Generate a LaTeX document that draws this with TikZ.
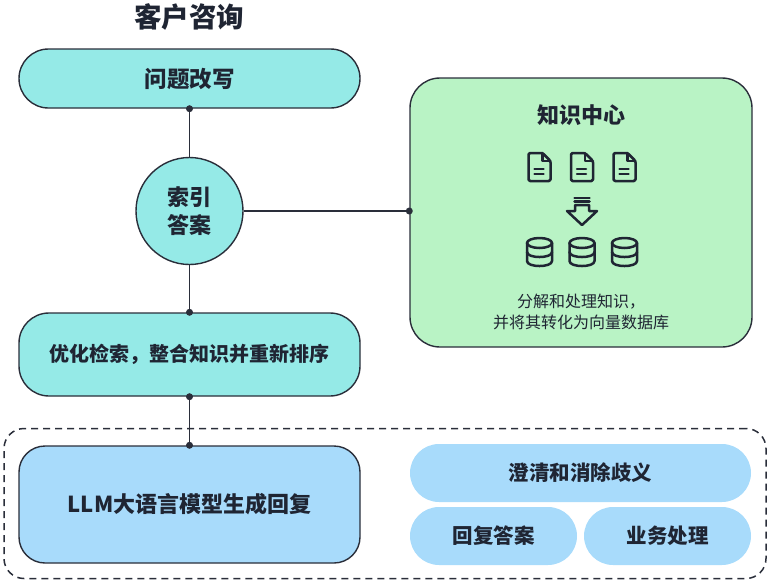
\documentclass[tikz,border=0pt]{standalone}
\usepackage{fontspec}
\setmainfont{Noto Sans CJK SC}
\definecolor{ink}{HTML}{1F2533}
\definecolor{edge}{HTML}{2A2E3A}
\definecolor{cyanf}{HTML}{95EAE7}
\definecolor{greenf}{HTML}{B9F3C5}
\definecolor{bluef}{HTML}{A8DBFB}
\tikzset{
  box/.style={draw=edge, line width=1.4pt, text=ink, align=center, inner sep=0pt,
    font=\fontsize{20}{28}\selectfont\bfseries},
  pill/.style={fill=bluef, text=ink, align=center, inner sep=0pt,
    font=\fontsize{20.5}{24}\selectfont\bfseries},
  dotnode/.style={circle, fill=edge, inner sep=0pt, minimum size=7pt},
  link/.style={draw=edge, line width=1.5pt},
  icon/.style={draw=ink, line width=2.5pt, line join=round, line cap=round},
  docicon/.pic={
    \draw[icon, rounded corners=1.5pt] (-11,-14) -- (3,-14) -- (11,-6) -- (11,14) -- (-11,14) -- cycle;
    \draw[icon] (3,-14) -- (3,-6) -- (11,-6);
    \draw[icon] (-5,2) -- (4,2) (-5,7) -- (4,7);
  },
  dbicon/.pic={
    \draw[icon] (0,-9) ellipse[x radius=12.5, y radius=5];
    \draw[icon] (-12.5,-9) -- (-12.5,9) .. controls (-12.5,15.7) and (12.5,15.7) .. (12.5,9) -- (12.5,-9);
    \draw[icon] (-12.5,0) .. controls (-12.5,6.7) and (12.5,6.7) .. (12.5,0);
  },
  downicon/.pic={
    \draw[icon] (-7.5,-12) -- (7.5,-12) (-7.5,-8.5) -- (7.5,-8.5);
    \draw[icon] (-7,-5) -- (7,-5) -- (7,1) -- (15,1) -- (0,15) -- (-15,1) -- (-7,1) -- cycle;
  }
}
\begin{document}
\begin{tikzpicture}[x=1pt,y=-1pt]
\useasboundingbox (0,0) rectangle (768,581);

% title
\node[text=ink, font=\fontsize{27.5}{30}\selectfont\bfseries] (title) at (189,17) {客户咨询};

% group
\node[draw=edge, line width=1.5pt, dash pattern=on 7pt off 5pt, rounded corners=20,
  minimum width=762, minimum height=150, inner sep=0pt] (grp) at (385,503.5) {};

% left column
\node[box, fill=cyanf, minimum width=341, minimum height=59, rounded corners=29.5, font=\fontsize{22.5}{28}\selectfont\bfseries] (q) at (189.5,78.5) {问题改写};
\node[box, fill=cyanf, circle, minimum size=107, font=\fontsize{22}{28}\selectfont\bfseries] (c) at (189.5,211) {索引\\答案};
\node[box, fill=cyanf, minimum width=341, minimum height=83, rounded corners=30] (opt) at (189.5,354.5) {优化检索，整合知识并重新排序};
\node[box, fill=bluef, minimum width=341, minimum height=117, rounded corners=26, font=\fontsize{22}{28}\selectfont\bfseries] (llm) at (189.5,504.5) {LLM大语言模型生成回复};

% knowledge center
\node[box, fill=greenf, minimum width=342, minimum height=269, rounded corners=30] (kb) at (581,212.5) {};
\node[text=ink, font=\fontsize{22}{24}\selectfont\bfseries] (kbt) at (581,115) {知识中心};
\pic (doca) at (539.5,167) {docicon};
\pic (docb) at (582,167) {docicon};
\pic (docc) at (624.5,167) {docicon};
\pic (arr) at (582,210) {downicon};
\pic (dba) at (539.5,252) {dbicon};
\pic (dbb) at (582,252) {dbicon};
\pic (dbc) at (624.5,252) {dbicon};
\node[text=ink, align=center, font=\fontsize{16}{20.5}\selectfont] (kbd) at (581,312) {分解和处理知识，\\并将其转化为向量数据库};

% right pills
\node[pill, minimum width=341, minimum height=58, rounded corners=29] (p1) at (580.5,473) {澄清和消除歧义};
\node[pill, minimum width=167, minimum height=58, rounded corners=29] (p2) at (493.5,536) {回复答案};
\node[pill, minimum width=167, minimum height=58, rounded corners=29] (p3) at (667.5,536) {业务处理};

% connectors
\draw[link] (q.south) -- (c.north);
\draw[link] (c.east) -- (c.east -| kb.west);
\draw[link] (c.south) -- (opt.north);
\draw[link] (opt.south) -- (llm.north);
\node[dotnode] (d1) at (q.south) {};
\node[dotnode] (d2) at (c.east -| kb.west) {};
\node[dotnode] (d3) at (opt.north) {};
\node[dotnode] (d4) at (opt.south) {};
\node[dotnode] (d5) at (llm.north) {};
\end{tikzpicture}
\end{document}
